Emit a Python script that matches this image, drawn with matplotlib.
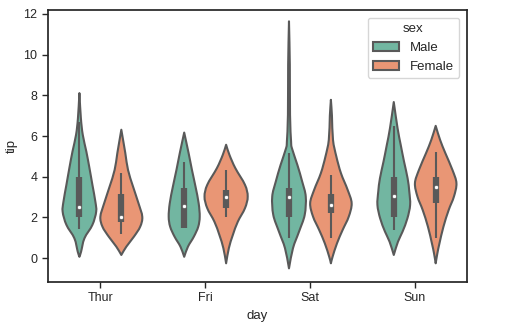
import colorsys
import numpy as np
import matplotlib
matplotlib.use("Agg")
import matplotlib.pyplot as plt
from matplotlib.patches import PathPatch, Rectangle
from matplotlib.path import Path

plt.rcParams['font.family'] = ['Liberation Sans', 'DejaVu Sans']

days = ["Thur", "Fri", "Sat", "Sun"]
sexes = ["Male", "Female"]

# Violin outlines: tip values and relative density (1 = widest)
thur_male_y = [8.11, 6.88, 6.06, 5.24, 4.42, 3.60, 2.78, 2.28, 1.63, 0.97, 0.31, 0.06]
thur_male_d = [0.0, 0.07, 0.16, 0.33, 0.48, 0.62, 0.76, 0.80, 0.62, 0.24, 0.08, 0.0]
thur_female_y = [6.31, 5.16, 4.33, 3.51, 2.69, 2.03, 1.54, 1.05, 0.56, 0.15]
thur_female_d = [0.0, 0.19, 0.32, 0.56, 0.82, 1.0, 0.90, 0.60, 0.24, 0.0]
fri_male_y = [6.17, 5.16, 4.33, 3.51, 2.69, 2.03, 1.54, 1.05, 0.56, 0.06]
fri_male_d = [0.0, 0.21, 0.37, 0.54, 0.69, 0.74, 0.67, 0.46, 0.18, 0.0]
fri_female_y = [5.57, 5.07, 4.42, 3.60, 3.02, 2.45, 1.79, 1.13, 0.48, -0.26]
fri_female_d = [0.0, 0.16, 0.44, 0.90, 1.03, 0.90, 0.56, 0.32, 0.13, 0.0]
sat_male_y = [11.64, 9.5, 7.04, 5.73, 5.40, 4.58, 3.76, 3.02, 2.12, 1.30, 0.48, -0.51]
sat_male_d = [0.0, 0.04, 0.05, 0.10, 0.14, 0.40, 0.63, 0.80, 0.75, 0.48, 0.19, 0.0]
sat_female_y = [7.78, 7.0, 5.81, 4.99, 4.17, 3.35, 2.69, 2.03, 1.38, 0.72, 0.06, -0.26]
sat_female_d = [0.0, 0.05, 0.10, 0.26, 0.48, 0.80, 0.99, 0.85, 0.56, 0.29, 0.08, 0.0]
sun_male_y = [7.67, 6.39, 5.57, 4.74, 3.92, 3.27, 2.61, 1.95, 1.30, 0.80, 0.15]
sun_male_d = [0.0, 0.18, 0.33, 0.49, 0.66, 0.74, 0.78, 0.65, 0.42, 0.20, 0.0]
sun_female_y = [6.50, 5.81, 5.16, 4.33, 3.68, 3.02, 2.36, 1.54, 0.72, 0.23, -0.26]
sun_female_d = [0.0, 0.21, 0.46, 0.80, 0.99, 0.87, 0.62, 0.37, 0.18, 0.08, 0.0]

# Box statistics: whisker low, Q1, median, Q3, whisker high
thur_male_box = [1.44, 2.0, 2.5, 4.0, 6.7]
thur_female_box = [1.2, 1.77, 2.02, 3.15, 4.2]
fri_male_box = [1.5, 1.5, 2.56, 3.45, 4.73]
fri_female_box = [2.0, 2.46, 3.0, 3.35, 4.33]
sat_male_box = [1.0, 2.0, 3.0, 3.45, 5.17]
sat_female_box = [1.0, 2.2, 2.6, 3.15, 4.1]
sun_male_box = [1.38, 2.0, 3.05, 4.0, 6.5]
sun_female_box = [1.0, 2.7, 3.5, 4.0, 5.2]

profiles = {
    ("Thur", "Male"): (thur_male_y, thur_male_d, thur_male_box),
    ("Thur", "Female"): (thur_female_y, thur_female_d, thur_female_box),
    ("Fri", "Male"): (fri_male_y, fri_male_d, fri_male_box),
    ("Fri", "Female"): (fri_female_y, fri_female_d, fri_female_box),
    ("Sat", "Male"): (sat_male_y, sat_male_d, sat_male_box),
    ("Sat", "Female"): (sat_female_y, sat_female_d, sat_female_box),
    ("Sun", "Male"): (sun_male_y, sun_male_d, sun_male_box),
    ("Sun", "Female"): (sun_female_y, sun_female_d, sun_female_box),
}

def desat(hexc, prop=0.75):
    rgb = matplotlib.colors.to_rgb(hexc)
    h, l, s = colorsys.rgb_to_hls(*rgb)
    return colorsys.hls_to_rgb(h, l, s * prop)

def smooth_side(pts):
    """Catmull-Rom curve through pts, returned as cubic Bezier vertices (without first point)."""
    pts = np.asarray(pts, dtype=float)
    n = len(pts)
    tang = np.zeros_like(pts)
    for k in range(n):
        a = pts[max(k - 1, 0)]
        b = pts[min(k + 1, n - 1)]
        tang[k] = (b - a) / (2.0 if 0 < k < n - 1 else 1.0)
    verts = []
    for k in range(n - 1):
        verts.append(pts[k] + tang[k] / 3.0)
        verts.append(pts[k + 1] - tang[k + 1] / 3.0)
        verts.append(pts[k + 1])
    return verts

def violin_path(c, ys, ds):
    left = np.column_stack([c - ds, ys])
    right = np.column_stack([c + ds, ys])[::-1]
    verts = [left[0]]
    codes = [Path.MOVETO]
    lv = smooth_side(left)
    verts += lv
    codes += [Path.CURVE4] * len(lv)
    rv = smooth_side(right)
    verts += rv
    codes += [Path.CURVE4] * len(rv)
    verts.append(left[0])
    codes.append(Path.CLOSEPOLY)
    return Path(np.array(verts), codes)

colors = {"Male": desat("#66c2a5"), "Female": desat("#fc8d62")}
gray = "#595959"
lw = 1.5

fig = plt.figure(figsize=(5.05, 3.31), dpi=100)
ax = fig.add_axes([0.095, 0.148, 0.830, 0.822])

half = 0.2
offsets = {"Male": -0.2, "Female": 0.2}
for i, day in enumerate(days):
    for sex in sexes:
        ys, ds, box = profiles[(day, sex)]
        c = i + offsets[sex]
        ys = np.array(ys, dtype=float)
        ds = np.array(ds, dtype=float) * half
        patch = PathPatch(violin_path(c, ys, ds), facecolor=colors[sex],
                          edgecolor=gray, linewidth=lw, joinstyle='round', zorder=1)
        ax.add_patch(patch)
        wl, q1, med, q3, wh = box
        ax.plot([c, c], [wl, wh], color=gray, linewidth=lw, solid_capstyle='butt', zorder=2)
        ax.plot([c, c], [q1, q3], color=gray, linewidth=lw * 3, solid_capstyle='butt', zorder=2)
        ax.scatter([c], [med], s=(lw * 2) ** 2, color="white", edgecolor=gray, linewidth=0.5, zorder=3)

ax.set_xlim(-0.5, 3.5)
ax.set_ylim(-1.18, 12.2)
ax.set_xticks(range(len(days)))
ax.set_xticklabels(days)
ax.set_yticks([0, 2, 4, 6, 8, 10, 12])
ax.set_xlabel("day", fontsize=9.5, color=".15")
ax.set_ylabel("tip", fontsize=9.5, color=".15")
ax.tick_params(axis='both', labelsize=9, colors=".15", direction='out', length=4, width=1)
for sp in ax.spines.values():
    sp.set_color(".15")
    sp.set_linewidth(1.25)

handles = [Rectangle((0, 0), 1, 1, facecolor=colors[s], edgecolor=gray, linewidth=lw) for s in sexes]
leg = ax.legend(handles, sexes, title="sex", loc="upper right", fontsize=9.5,
                title_fontsize=9.5, borderaxespad=0.6)
leg.get_frame().set_edgecolor("0.8")
leg.get_title().set_color(".15")
for t in leg.get_texts():
    t.set_color(".15")

fig.savefig("out.png", dpi=100)
